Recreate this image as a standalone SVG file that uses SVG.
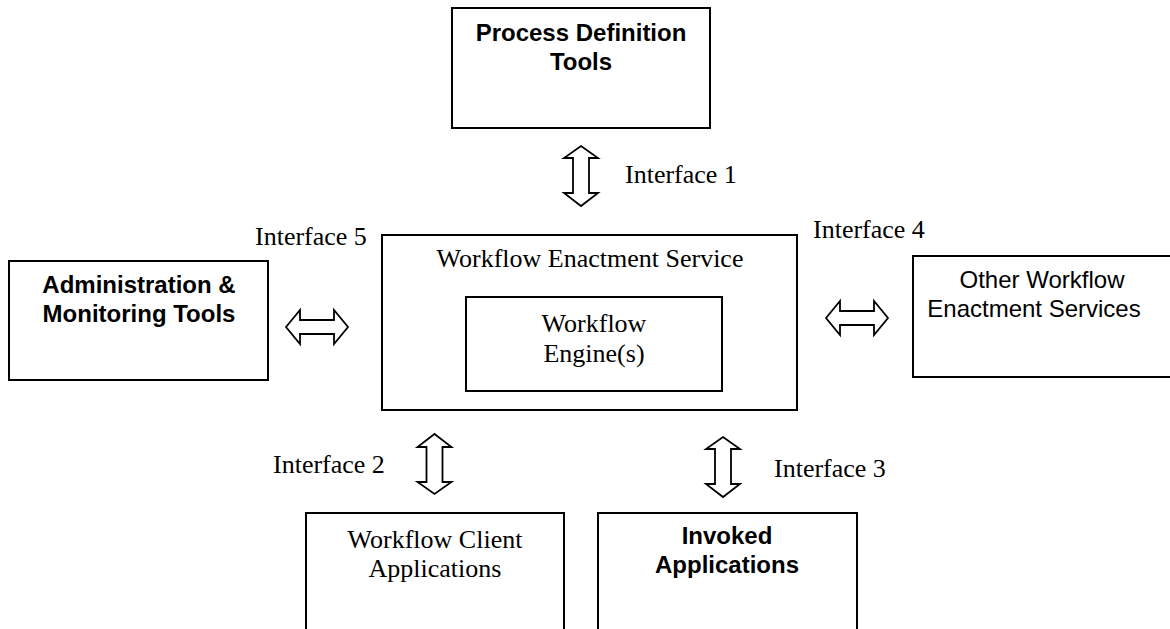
<svg xmlns="http://www.w3.org/2000/svg" width="1170" height="629" viewBox="0 0 1170 629">
  <style>
    .box { fill: #fff; stroke: #000; stroke-width: 2; }
    .arrow { fill: #fff; stroke: #000; stroke-width: 1.8; stroke-linejoin: miter; }
    .sans-b { font-family: "Liberation Sans", Arial, sans-serif; font-weight: bold; font-size: 24px; fill: #000; text-anchor: middle; }
    .sans { font-family: "Liberation Sans", Arial, sans-serif; font-size: 24px; fill: #000; text-anchor: middle; }
    .serif { font-family: "Liberation Serif", "Times New Roman", serif; font-size: 26px; fill: #000; text-anchor: middle; }
    .label { font-family: "Liberation Serif", "Times New Roman", serif; font-size: 26px; fill: #000; }
  </style>
  <rect width="1170" height="629" fill="#fff"/>

  <g id="process-definition-tools">
    <rect class="box" x="452" y="8" width="258" height="120"/>
    <text class="sans-b" x="581" y="41">Process Definition</text>
    <text class="sans-b" x="581" y="70">Tools</text>
  </g>

  <g id="workflow-enactment-service">
    <rect class="box" x="382" y="235" width="415" height="175"/>
    <text class="serif" x="590" y="267">Workflow Enactment Service</text>
  </g>

  <g id="workflow-engines">
    <rect class="box" x="466" y="297" width="256" height="94"/>
    <text class="serif" x="594" y="332">Workflow</text>
    <text class="serif" x="594" y="362">Engine(s)</text>
  </g>

  <g id="administration-monitoring-tools">
    <rect class="box" x="9" y="261" width="259" height="119"/>
    <text class="sans-b" x="139" y="293">Administration &amp;</text>
    <text class="sans-b" x="139" y="322">Monitoring Tools</text>
  </g>

  <g id="other-enactment-services">
    <rect class="box" x="913" y="256" width="262" height="121"/>
    <text class="sans" x="1042" y="288">Other Workflow</text>
    <text class="sans" x="1034" y="317">Enactment Services</text>
  </g>

  <g id="workflow-client-applications">
    <rect class="box" x="306" y="513" width="258" height="130"/>
    <text class="serif" x="435" y="548">Workflow Client</text>
    <text class="serif" x="435" y="577">Applications</text>
  </g>

  <g id="invoked-applications">
    <rect class="box" x="598" y="513" width="259" height="130"/>
    <text class="sans-b" x="727" y="544">Invoked</text>
    <text class="sans-b" x="727" y="573">Applications</text>
  </g>

  <g id="connectors">
    <!-- Interface 1: process definition tools <-> enactment service -->
    <path class="arrow" d="M581,146 L598,158 L589,158 L589,193 L598,193 L581,206 L564,193 L573,193 L573,158 L564,158 Z"/>
    <!-- Interface 2: client applications -->
    <path class="arrow" d="M434.5,434 L451.5,447 L442.5,447 L442.5,482 L451.5,482 L434.5,494 L417.5,482 L426.5,482 L426.5,447 L417.5,447 Z"/>
    <!-- Interface 3: invoked applications -->
    <path class="arrow" d="M723,437 L740,449 L731,449 L731,484 L740,484 L723,497 L706,484 L715,484 L715,449 L706,449 Z"/>
    <!-- Interface 5: administration & monitoring -->
    <path class="arrow" d="M286,327 L300,310 L300,320 L334,320 L334,310 L348,327 L334,344 L334,334 L300,334 L300,344 Z"/>
    <!-- Interface 4: other enactment services -->
    <path class="arrow" d="M826,318 L840,301 L840,311 L874,311 L874,301 L888,318 L874,335 L874,325 L840,325 L840,335 Z"/>

    <text class="label" x="625" y="183">Interface 1</text>
    <text class="label" x="273" y="473">Interface 2</text>
    <text class="label" x="774" y="477">Interface 3</text>
    <text class="label" x="813" y="238">Interface 4</text>
    <text class="label" x="255" y="245">Interface 5</text>
  </g>
</svg>
